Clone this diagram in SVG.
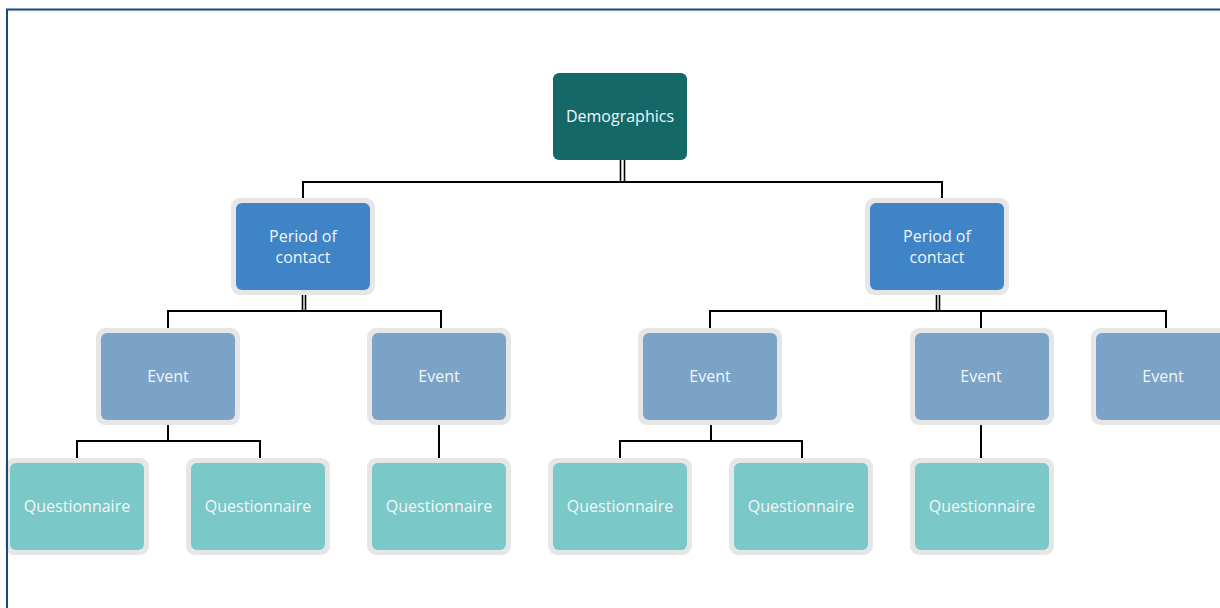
<svg xmlns="http://www.w3.org/2000/svg" width="1220" height="608" viewBox="0 0 1220 608">
<style>
.frame{fill:none;stroke:#1b4a78;stroke-width:2}
.hl{fill:none;stroke:#dbe6f2;stroke-width:1}
.halo{fill:#e6e6e6}
.demo{fill:#146868}
.per{fill:#3e84c7}
.evt{fill:#7ba3c7}
.q{fill:#7bc8c8}
.t{font-family:"Open Sans","Noto Sans",sans-serif;font-size:16px;fill:#f2f6f8;text-anchor:middle}
.c{fill:none;stroke:#000;stroke-width:2}
.c1{fill:none;stroke:#000;stroke-width:1.6}
</style>
<rect width="1220" height="608" fill="#fff"/>
<line class="hl" x1="7" y1="11" x2="1220" y2="11"/>
<path class="frame" d="M1221 9.5H7V608"/>
<g id="connectors">
<path class="c1" d="M620.5 160V182M624.5 160V182"/>
<path class="c" d="M303 198V182H942V198"/>
<path class="c1" d="M302.5 295V311M305.5 295V311"/>
<path class="c" d="M168 328V311H441V328"/>
<path class="c1" d="M936.5 295V311M939.5 295V311"/>
<path class="c" d="M710 328V311H1166V328M981 311V328"/>
<path class="c" d="M168 425V441" stroke-width="3"/>
<path class="c" d="M77 458V441H260V458"/>
<path class="c" d="M439 425V458"/>
<path class="c" d="M711 425V441" stroke-width="3"/>
<path class="c" d="M620 458V441H802V458"/>
<path class="c" d="M981 425V458"/>
</g>
<g id="demographics">
<rect class="demo" x="553" y="73" width="134" height="87" rx="6"/>
<text class="t" x="620" y="122">Demographics</text>
</g>
<g id="period1">
<rect class="halo" x="231" y="198" width="144" height="97" rx="9"/>
<rect class="per" x="236" y="203" width="134" height="87" rx="6"/>
<text class="t" x="303" y="242">Period of</text>
<text class="t" x="303" y="263">contact</text>
</g>
<g id="period2">
<rect class="halo" x="865" y="198" width="144" height="97" rx="9"/>
<rect class="per" x="870" y="203" width="134" height="87" rx="6"/>
<text class="t" x="937" y="242">Period of</text>
<text class="t" x="937" y="263">contact</text>
</g>
<g id="event1">
<rect class="halo" x="96" y="328" width="144" height="97" rx="9"/>
<rect class="evt" x="101" y="333" width="134" height="87" rx="6"/>
<text class="t" x="168" y="382">Event</text>
</g>
<g id="event2">
<rect class="halo" x="367" y="328" width="144" height="97" rx="9"/>
<rect class="evt" x="372" y="333" width="134" height="87" rx="6"/>
<text class="t" x="439" y="382">Event</text>
</g>
<g id="event3">
<rect class="halo" x="638" y="328" width="144" height="97" rx="9"/>
<rect class="evt" x="643" y="333" width="134" height="87" rx="6"/>
<text class="t" x="710" y="382">Event</text>
</g>
<g id="event4">
<rect class="halo" x="910" y="328" width="144" height="97" rx="9"/>
<rect class="evt" x="915" y="333" width="134" height="87" rx="6"/>
<text class="t" x="981" y="382">Event</text>
</g>
<g id="event5">
<rect class="halo" x="1091" y="328" width="144" height="97" rx="9"/>
<rect class="evt" x="1096" y="333" width="134" height="87" rx="6"/>
<text class="t" x="1163" y="382">Event</text>
</g>
<g id="q1">
<rect class="halo" x="5" y="458" width="144" height="97" rx="9"/>
<rect class="q" x="10" y="463" width="134" height="87" rx="6"/>
<text class="t" x="77" y="512">Questionnaire</text>
</g>
<g id="q2">
<rect class="halo" x="186" y="458" width="144" height="97" rx="9"/>
<rect class="q" x="191" y="463" width="134" height="87" rx="6"/>
<text class="t" x="258" y="512">Questionnaire</text>
</g>
<g id="q3">
<rect class="halo" x="367" y="458" width="144" height="97" rx="9"/>
<rect class="q" x="372" y="463" width="134" height="87" rx="6"/>
<text class="t" x="439" y="512">Questionnaire</text>
</g>
<g id="q4">
<rect class="halo" x="548" y="458" width="144" height="97" rx="9"/>
<rect class="q" x="553" y="463" width="134" height="87" rx="6"/>
<text class="t" x="620" y="512">Questionnaire</text>
</g>
<g id="q5">
<rect class="halo" x="729" y="458" width="144" height="97" rx="9"/>
<rect class="q" x="734" y="463" width="134" height="87" rx="6"/>
<text class="t" x="801" y="512">Questionnaire</text>
</g>
<g id="q6">
<rect class="halo" x="910" y="458" width="144" height="97" rx="9"/>
<rect class="q" x="915" y="463" width="134" height="87" rx="6"/>
<text class="t" x="982" y="512">Questionnaire</text>
</g>
<line x1="7" y1="10" x2="7" y2="608" stroke="#1b4a78" stroke-width="2"/>
</svg>
